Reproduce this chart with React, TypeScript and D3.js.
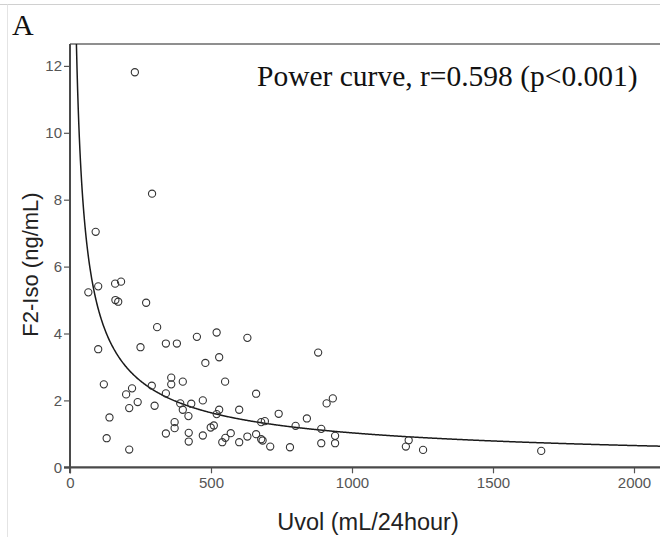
import React, { useEffect, useRef } from 'react';
import * as d3 from 'd3';

// Uvol (mL/24hour) vs F2-Iso (ng/mL)
const uvol = [
  65, 100, 160, 181, 161, 171, 270, 309, 100, 250,
  340, 379, 450, 520, 629, 480, 529, 120, 199, 220,
  210, 240, 290, 300, 340, 359, 359, 400, 550, 660,
  471, 391, 400, 430, 420, 371, 371, 340, 140, 130,
  210, 421, 421, 471, 499, 510, 529, 520, 540, 551,
  570, 600, 600, 629, 660, 678, 691, 678, 683, 710,
  740, 780, 800, 840, 880, 891, 891, 910, 932, 940,
  940, 1201, 1191, 1252, 1671, 230, 291, 91,
];
const f2iso = [
  5.23, 5.41, 5.49, 5.55, 5.0, 4.95, 4.92, 4.19, 3.53, 3.59,
  3.7, 3.7, 3.9, 4.03, 3.87, 3.12, 3.29, 2.48, 2.18, 2.36,
  1.77, 1.95, 2.44, 1.84, 2.21, 2.48, 2.68, 2.56, 2.56, 2.2,
  2.0, 1.91, 1.72, 1.9, 1.53, 1.35, 1.17, 1.01, 1.49, 0.87,
  0.53, 1.03, 0.77, 0.95, 1.19, 1.25, 1.72, 1.59, 0.75, 0.88,
  1.02, 1.72, 0.75, 0.92, 0.99, 1.35, 1.38, 0.84, 0.8, 0.62,
  1.6, 0.6, 1.24, 1.46, 3.43, 1.15, 0.72, 1.91, 2.06, 0.94,
  0.72, 0.81, 0.62, 0.52, 0.49, 11.81, 8.18, 7.04,
];

// fitted power curve y = a * x^b
const fitA = 100.4;
const fitB = -0.663;

const xTicks = [0, 500, 1000, 1500, 2000];
const yTicks = [0, 2, 4, 6, 8, 10, 12];

const W = 660;
const H = 539;

export default function App() {
  const ref = useRef<SVGSVGElement>(null);

  useEffect(() => {
    const svg = d3.select(ref.current);
    svg.selectAll('*').remove();

    const left = 70, right = 660, top = 44, bottom = 467.3;

    const x = d3.scaleLinear().domain([0, (right - left) / 0.282]).range([left, right]);
    const y = d3.scaleLinear().domain([0, (bottom - top) / 33.45]).range([bottom, top]);

    // faint outer border of the figure
    svg.append('line').attr('x1', 0).attr('x2', W).attr('y1', 4.5).attr('y2', 4.5)
      .attr('stroke', '#d0d0d0').attr('stroke-width', 1);
    svg.append('line').attr('x1', 7.5).attr('x2', 7.5).attr('y1', 4.5).attr('y2', 537)
      .attr('stroke', '#e4e4e4').attr('stroke-width', 1);

    svg.append('text')
      .attr('x', 12).attr('y', 35)
      .attr('font-family', '"Liberation Serif", "Times New Roman", serif')
      .attr('font-size', 30).attr('fill', '#111')
      .text('A');

    svg.append('defs').append('clipPath').attr('id', 'plot-clip')
      .append('rect').attr('x', left).attr('y', top).attr('width', right - left).attr('height', bottom - top);

    // frame: top line
    svg.append('line').attr('x1', left).attr('x2', right).attr('y1', top).attr('y2', top)
      .attr('stroke', '#6a6a6a').attr('stroke-width', 1.6);

    const yAxis = svg.append('g')
      .attr('transform', `translate(${left},0)`)
      .call(d3.axisLeft(y).tickValues(yTicks).tickSize(6).tickPadding(2).tickFormat(d3.format('d')));
    yAxis.select('.domain').remove();
    yAxis.append('line').attr('x1', 0).attr('x2', 0).attr('y1', top).attr('y2', bottom + 6)
      .attr('stroke', '#4a4a4a').attr('stroke-width', 2);

    const xAxis = svg.append('g')
      .attr('transform', `translate(0,${bottom})`)
      .call(d3.axisBottom(x).tickValues(xTicks).tickSize(6).tickPadding(4).tickFormat(d3.format('d')));
    xAxis.select('.domain').remove();
    xAxis.append('line').attr('x1', left - 6).attr('x2', right).attr('y1', 0).attr('y2', 0)
      .attr('stroke', '#4a4a4a').attr('stroke-width', 2.2);

    [yAxis, xAxis].forEach(ax => {
      ax.selectAll('.tick line').attr('stroke', '#555').attr('stroke-width', 1.2);
      ax.selectAll('.tick text')
        .attr('font-family', '"Liberation Sans", Arial, sans-serif')
        .attr('font-size', 15).attr('fill', '#555');
    });

    // power curve
    const xs = d3.range(5, x.domain()[1] + 1, 2);
    const line = d3.line<number>()
      .x(d => x(d))
      .y(d => y(fitA * Math.pow(d, fitB)));
    svg.append('path')
      .datum(xs)
      .attr('clip-path', 'url(#plot-clip)')
      .attr('d', line)
      .attr('fill', 'none')
      .attr('stroke', '#1a1a1a')
      .attr('stroke-width', 1.5);

    svg.append('g').selectAll('circle')
      .data(uvol.map((u, i) => [u, f2iso[i]]))
      .enter().append('circle')
      .attr('cx', d => x(d[0]))
      .attr('cy', d => y(d[1]))
      .attr('r', 3.6)
      .attr('fill', 'none')
      .attr('stroke', '#333')
      .attr('stroke-width', 1.1);

    svg.append('text')
      .attr('x', 257).attr('y', 85.5)
      .attr('font-family', '"Liberation Serif", "Times New Roman", serif')
      .attr('font-size', 29.5).attr('fill', '#111')
      .text('Power curve, r=0.598 (p<0.001)');

    svg.append('text')
      .attr('transform', `translate(38,${264.5}) rotate(-90)`)
      .attr('text-anchor', 'middle')
      .attr('font-family', '"Liberation Sans", Arial, sans-serif')
      .attr('font-size', 22).attr('fill', '#222')
      .text('F2-Iso (ng/mL)');

    svg.append('text')
      .attr('x', 368).attr('y', 530)
      .attr('text-anchor', 'middle')
      .attr('font-family', '"Liberation Sans", Arial, sans-serif')
      .attr('font-size', 23.5).attr('fill', '#222')
      .text('Uvol (mL/24hour)');
  }, []);

  return (
    <svg ref={ref} width={W} height={H}
      style={{ position: 'absolute', left: 0, top: 0, background: '#fff', display: 'block' }} />
  );
}
